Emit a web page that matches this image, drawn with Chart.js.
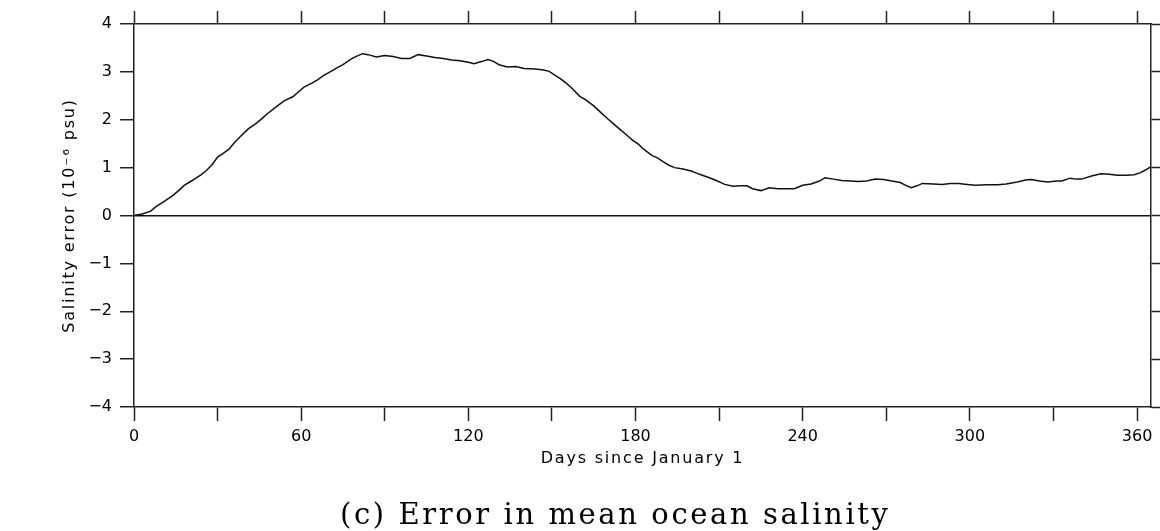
<!DOCTYPE html>
<html>
<head>
<meta charset="utf-8">
<script src="https://cdn.jsdelivr.net/npm/chart.js@4.4.1/dist/chart.umd.min.js"></script>
<style>
  html, body { margin: 0; padding: 0; background: #fff; }
  #wrap { width: 1160px; height: 531px; }
</style>
</head>
<body>
<div id="wrap"><canvas id="salinity-chart"></canvas></div>
<script>
// days since Jan 1 and salinity error (1e-6 psu)
const days = [
  0, 3, 6, 8, 11, 14, 16, 18, 20, 22, 24, 26, 28, 30, 32, 34, 36, 38, 41, 44,
  46, 48, 51, 54, 57, 59, 61, 64, 66, 68, 71, 73, 75, 78, 80, 82, 84, 87, 90, 93,
  96, 99, 102, 105, 108, 111, 114, 117, 120, 122, 125, 127, 129, 131, 134, 137, 140, 144, 147, 149,
  151, 153, 155, 157, 160, 162, 165, 167, 170, 172, 174, 177, 179, 181, 183, 186, 188, 190, 192, 194,
  197, 200, 203, 206, 209, 212, 215, 218, 220, 222, 225, 228, 231, 234, 237, 240, 243, 246, 248, 251,
  254, 257, 260, 263, 266, 269, 272, 275, 277, 279, 281, 283, 287, 290, 293, 296, 299, 302, 306, 310,
  313, 317, 320, 322, 325, 328, 331, 333, 336, 338, 340, 344, 347, 350, 353, 356, 359, 361, 363, 365
]
const salinityError = [
  0.00, 0.03, 0.09, 0.19, 0.30, 0.42, 0.52, 0.63, 0.70, 0.77, 0.85, 0.94, 1.06, 1.22, 1.30, 1.38, 1.52, 1.64, 1.81, 1.93,
  2.03, 2.13, 2.27, 2.40, 2.48, 2.58, 2.68, 2.77, 2.84, 2.92, 3.02, 3.09, 3.15, 3.27, 3.33, 3.38, 3.36, 3.31, 3.34, 3.32,
  3.28, 3.28, 3.36, 3.33, 3.30, 3.28, 3.25, 3.23, 3.20, 3.17, 3.22, 3.26, 3.22, 3.15, 3.10, 3.11, 3.07, 3.06, 3.04, 3.01,
  2.93, 2.86, 2.77, 2.67, 2.49, 2.42, 2.29, 2.18, 2.02, 1.92, 1.82, 1.67, 1.57, 1.49, 1.38, 1.25, 1.20, 1.12, 1.05, 1.00,
  0.97, 0.93, 0.86, 0.80, 0.73, 0.65, 0.61, 0.62, 0.62, 0.56, 0.52, 0.58, 0.56, 0.56, 0.56, 0.63, 0.66, 0.72, 0.79, 0.76,
  0.73, 0.72, 0.71, 0.72, 0.76, 0.75, 0.72, 0.69, 0.63, 0.58, 0.62, 0.67, 0.66, 0.65, 0.67, 0.67, 0.65, 0.63, 0.64, 0.64,
  0.66, 0.70, 0.74, 0.75, 0.72, 0.70, 0.72, 0.72, 0.78, 0.76, 0.76, 0.83, 0.87, 0.86, 0.84, 0.84, 0.85, 0.89, 0.95, 1.02
]
const xLabelDays = [0, 60, 120, 180, 240, 300, 360]
const caption = '(c) Error in mean ocean salinity'

const axisColor = '#222'
const sans = 'DejaVu Sans'

const canvas = document.getElementById('salinity-chart')
const ctx = canvas.getContext('2d')

const fmt = (v) => (v < 0 ? '\u2212' + Math.abs(v) : String(v))

// axis titles in the original are drawn with a wide stroke font, so space the letters a bit
const spacedTitles = {
  id: 'spacedTitles',
  beforeDraw(chart) {
    Object.values(chart.scales).forEach((s) => {
      if (s._spaced) return
      const orig = s.drawTitle.bind(s)
      s.drawTitle = function () {
        const c = this.ctx
        const prev = c.letterSpacing
        c.letterSpacing = '1.8px'
        orig()
        c.letterSpacing = prev
      }
      s._spaced = true
    })
  },
}

// figure caption under the plot
const captionPlugin = {
  id: 'caption',
  afterDraw(chart) {
    const c = chart.ctx
    c.save()
    c.font = '29px "DejaVu Serif"'
    c.letterSpacing = '2.6px'
    c.fillStyle = '#000'
    c.textAlign = 'left'
    c.textBaseline = 'alphabetic'
    c.fillText(caption, 340, 524)
    c.restore()
  },
}

new Chart(ctx, {
  type: 'line',
  data: {
    datasets: [
      {
        data: days.map((d, i) => ({ x: d, y: salinityError[i] })),
        borderColor: '#111',
        backgroundColor: 'transparent',
        borderWidth: 1.5,
        tension: 0,
        pointRadius: 0,
      },
    ],
  },
  plugins: [spacedTitles, captionPlugin],
  options: {
    responsive: true,
    maintainAspectRatio: false,
    animation: false,
    layout: { padding: { left: 0, right: 0, top: 0, bottom: 34.8 } },
    plugins: {
      legend: { display: false },
      tooltip: { enabled: false },
      title: { display: false },
    },
    scales: {
      x: {
        type: 'linear',
        position: 'bottom',
        min: 0,
        max: 365,
        afterBuildTicks: (s) => {
          s.ticks = []
          for (let d = 0; d <= 360; d += 30) s.ticks.push({ value: d })
        },
        afterFit: (s) => { s.height = 89.2 },
        ticks: {
          autoSkip: false,
          maxRotation: 0,
          padding: 6,
          color: '#000',
          font: { family: sans, size: 16 },
          callback: (v) => (xLabelDays.includes(v) ? String(v) : ''),
        },
        grid: { drawOnChartArea: false, tickLength: 14, tickColor: axisColor, tickWidth: 1.5 },
        border: { display: true, color: axisColor, width: 1.5 },
        title: {
          display: true,
          text: 'Days since January 1',
          color: '#000',
          font: { family: sans, size: 16 },
          padding: { top: 0, bottom: 28 },
        },
      },
      xTop: {
        type: 'linear',
        position: 'top',
        min: 0,
        max: 365,
        afterBuildTicks: (s) => {
          s.ticks = []
          for (let d = 0; d <= 360; d += 30) s.ticks.push({ value: d })
        },
        afterFit: (s) => { s.height = 24 },
        ticks: { display: false },
        grid: { drawOnChartArea: false, tickLength: 13, tickColor: axisColor, tickWidth: 1.5 },
        border: { display: true, color: axisColor, width: 1.5 },
      },
      y: {
        position: 'left',
        min: -4,
        max: 4,
        afterFit: (s) => { s.width = 134 },
        ticks: {
          stepSize: 1,
          padding: 8,
          color: '#000',
          font: { family: sans, size: 16 },
          callback: fmt,
        },
        grid: {
          drawOnChartArea: true,
          color: (c) => (c.tick && c.tick.value === 0 ? '#111' : 'rgba(0,0,0,0)'),
          lineWidth: 1.5,
          tickLength: 14,
          tickColor: axisColor,
          tickWidth: 1.5,
        },
        border: { display: true, color: axisColor, width: 1.5 },
        title: {
          display: true,
          text: 'Salinity error (10\u207B\u2076 psu)',
          color: '#000',
          font: { family: sans, size: 16 },
          padding: { top: 60, bottom: 0 },
        },
      },
      yRight: {
        position: 'right',
        min: -4,
        max: 4,
        afterFit: (s) => { s.width = 9 },
        ticks: { display: false, stepSize: 1 },
        grid: { drawOnChartArea: false, tickLength: 9, tickColor: axisColor, tickWidth: 1.5 },
        border: { display: true, color: axisColor, width: 1.5 },
      },
    },
  },
})
</script>
</body>
</html>
